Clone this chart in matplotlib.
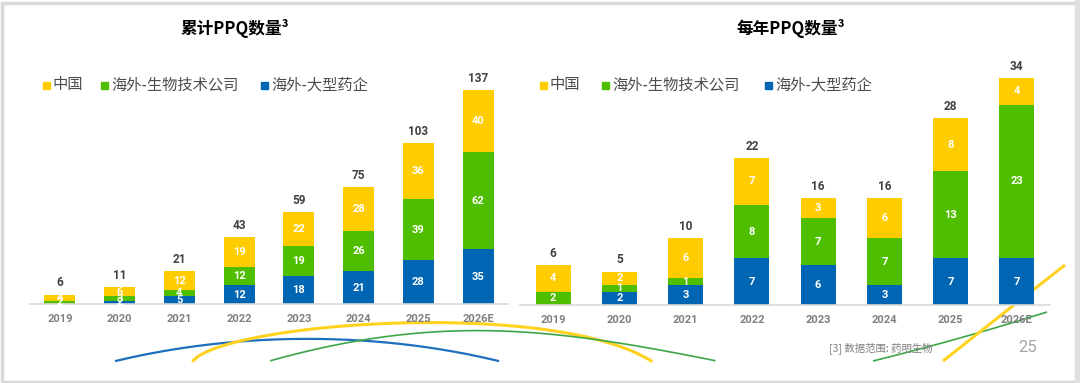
import numpy as np
import matplotlib
matplotlib.use("Agg")
import matplotlib.pyplot as plt
from matplotlib.patches import Rectangle

plt.rcParams['font.family'] = ['Noto Sans CJK SC', 'DejaVu Sans']

# ---------------- data ----------------
years = ["2019", "2020", "2021", "2022", "2023", "2024", "2025", "2026E"]
series_names = ["中国", "海外-生物技术公司", "海外-大型药企"]
colors = {"中国": "#FFCC00", "海外-生物技术公司": "#50BE00", "海外-大型药企": "#0066B3"}

# cumulative
cum_pharma = [0, 2, 5, 12, 18, 21, 28, 35]
cum_biotech = [2, 3, 4, 12, 19, 26, 39, 62]
cum_china = [4, 6, 12, 19, 22, 28, 36, 40]

# annual
ann_pharma = [0, 2, 3, 7, 6, 3, 7, 7]
ann_biotech = [2, 1, 1, 8, 7, 7, 13, 23]
ann_china = [4, 2, 6, 7, 3, 6, 8, 4]

left_title = "累计PPQ数量³"
right_title = "每年PPQ数量³"
footnote = "[3] 数据范围: 药明生物"
page_no = "25"

NUM_FONT = ["Roboto", "DejaVu Sans"]

W, H = 1080, 383
fig = plt.figure(figsize=(W / 100, H / 100), dpi=100)
fig.patch.set_facecolor("white")


def px_axes(x0, ytop, x1, ybot):
    return fig.add_axes([x0 / W, 1 - ybot / H, (x1 - x0) / W, (ybot - ytop) / H])


def draw_stack(ax, pharma, biotech, china, ymax, width):
    x = np.arange(len(years))
    ax.set_xlim(-0.5, len(years) - 0.5)
    ax.set_ylim(0, ymax)
    stacks = [("海外-大型药企", pharma), ("海外-生物技术公司", biotech), ("中国", china)]
    bottom = np.zeros(len(years))
    for name, vals in stacks:
        vals = np.array(vals, dtype=float)
        ax.bar(x, vals, width, bottom=bottom, color=colors[name], zorder=2)
        for xi, b, v in zip(x, bottom, vals):
            if v > 0:
                ax.text(xi, b + v / 2, f"{int(v)}", ha="center", va="center",
                        color="white", fontsize=8, fontweight="bold",
                        family=NUM_FONT, zorder=3, clip_on=False)
        bottom = bottom + vals
    for xi, t in zip(x, bottom):
        ax.annotate(f"{int(t)}", (xi, t), xytext=(0, 8.5), textcoords="offset points",
                    ha="center", va="center", color="#404040", fontsize=8.5,
                    fontweight="bold", family=NUM_FONT, annotation_clip=False)
    for s in ["top", "left", "right"]:
        ax.spines[s].set_visible(False)
    ax.spines["bottom"].set_color("#D9D9D9")
    ax.spines["bottom"].set_linewidth(1.2)
    ax.set_yticks([])
    ax.set_xticks(x)
    ax.set_xticklabels(years)
    ax.tick_params(axis="x", length=0, pad=7, labelsize=8, labelcolor="#7F7F7F")
    for lab in ax.get_xticklabels():
        lab.set_fontweight("bold")
        lab.set_family(NUM_FONT)
    ax.patch.set_alpha(0)


axL = px_axes(30, 90, 508, 304)
draw_stack(axL, cum_pharma, cum_biotech, cum_china,
           cum_pharma[-1] + cum_biotech[-1] + cum_china[-1], 0.52)
axR = px_axes(520, 78, 1050, 305)
draw_stack(axR, ann_pharma, ann_biotech, ann_china,
           ann_pharma[-1] + ann_biotech[-1] + ann_china[-1], 0.53)

# titles
fig.text(235 / W, 1 - 29 / H, left_title, ha="center", va="center", fontsize=12,
         fontweight="bold", color="black")
fig.text(791 / W, 1 - 29 / H, right_title, ha="center", va="center", fontsize=12,
         fontweight="bold", color="black")


# legends (manual placement)
def legend_row(xs_sq, y):
    for name, xs in zip(series_names, xs_sq):
        fig.patches.append(Rectangle(((xs - 3.5) / W, 1 - (y + 3.5) / H), 7 / W, 7 / H,
                                     transform=fig.transFigure, color=colors[name],
                                     figure=fig))
        fig.text((xs + 7) / W, 1 - y / H, name, ha="left", va="center", fontsize=11,
                 color="#4D4D4D")


legend_row([46, 104, 264], 85)
legend_row([543, 605, 768], 85)

# decorative background curves (overlay in pixel coords)
deco = fig.add_axes([0, 0, 1, 1], zorder=-1)
deco.set_xlim(0, W)
deco.set_ylim(H, 0)
deco.axis("off")


def smooth(points, color, lw):
    pts = np.array(points, dtype=float)
    t = np.linspace(0, 1, len(pts))
    tt = np.linspace(0, 1, 200)
    deg = min(3, len(pts) - 1)
    cx = np.polyfit(t, pts[:, 0], deg)
    cy = np.polyfit(t, pts[:, 1], deg)
    deco.plot(np.polyval(cx, tt), np.polyval(cy, tt), color=color, lw=lw,
              solid_capstyle="butt")


smooth([(115, 361), (210, 345), (307, 338), (405, 345), (499, 361)], "#1F6FBF", 1.6)
smooth([(193, 361), (260, 339), (400, 319), (540, 332), (653, 361)], "#FFD21F", 2.2)
smooth([(272, 361), (360, 339), (460, 331), (540, 334), (620, 343), (717, 361)], "#3DA64A", 1.2)
smooth([(873, 361), (960, 338), (1047, 312)], "#3DA64A", 1.2)
smooth([(943, 361), (1000, 316), (1065, 265)], "#FFD21F", 2.2)

# footnote and page number
fig.text(829 / W, 1 - 348 / H, footnote, ha="left", va="center", fontsize=7.5,
         color="#7F7F7F")
fig.text(1028 / W, 1 - 348 / H, page_no, ha="center", va="center", fontsize=12,
         color="#A6A6A6", family=NUM_FONT)

# slide border
fig.patches.append(Rectangle((1.5 / W, 1.5 / H), (W - 6) / W, (H - 4) / H,
                             transform=fig.transFigure, fill=False,
                             edgecolor="#D9D9D9", lw=2.5, figure=fig))
fig.patches.append(Rectangle(((W - 5) / W, 0), 5 / W, 1, transform=fig.transFigure,
                             color="#E0E0E0", figure=fig))

fig.savefig("out.png", dpi=100)
